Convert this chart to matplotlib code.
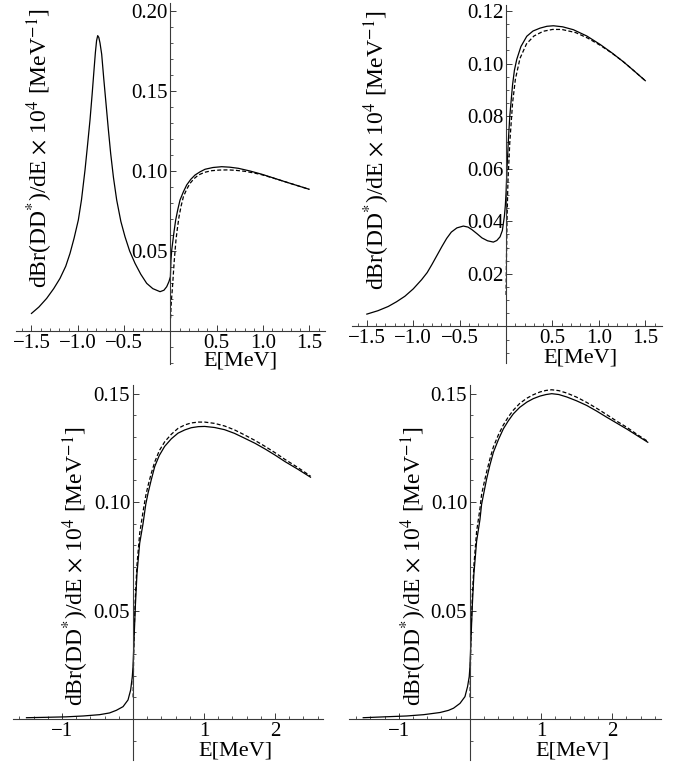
import matplotlib.pyplot as plt
from matplotlib.ticker import FixedLocator, FixedFormatter, MultipleLocator

plt.rcParams['font.family'] = ['Liberation Serif', 'DejaVu Serif']
plt.rcParams['mathtext.fontset'] = 'stix'

# ---- data ----
# top left panel
tl_solid_e = [-1.50, -1.42, -1.336, -1.26, -1.192, -1.13, -1.084, -1.04, -0.994, -0.96,
              -0.922, -0.895, -0.868, -0.845, -0.825, -0.81, -0.797, -0.785, -0.773, -0.76,
              -0.742, -0.72, -0.695, -0.670, -0.645, -0.615, -0.58, -0.535, -0.49, -0.44,
              -0.382, -0.32, -0.256, -0.19, -0.112, -0.07, -0.04, -0.015, 0.0, 0.006,
              0.015, 0.028, 0.04, 0.057, 0.08, 0.104, 0.14, 0.176, 0.22, 0.266,
              0.32, 0.374, 0.46, 0.554, 0.64, 0.733, 0.86, 0.986, 1.11, 1.238, 1.37, 1.497]
tl_solid_v = [0.0110, 0.0150, 0.0204, 0.0265, 0.0329, 0.0405, 0.0485, 0.0580, 0.0694, 0.0820,
              0.1006, 0.1160, 0.1319, 0.1480, 0.1630, 0.1740, 0.1815, 0.1846, 0.1835, 0.1800,
              0.1730, 0.1580, 0.1420, 0.1260, 0.1110, 0.0960, 0.0819, 0.0685, 0.0589, 0.0500,
              0.0423, 0.0355, 0.0298, 0.0265, 0.0246, 0.0255, 0.0277, 0.0310, 0.0340, 0.0444,
              0.0510, 0.0569, 0.0625, 0.0694, 0.0760, 0.0819, 0.0870, 0.0913, 0.0948, 0.0975,
              0.0995, 0.1011, 0.1022, 0.1027, 0.1024, 0.1017, 0.1000, 0.0980, 0.0957, 0.0933, 0.0909, 0.0886]
tl_dash_e = [0.002, 0.006, 0.012, 0.020, 0.030, 0.039, 0.050, 0.060, 0.075, 0.093,
             0.115, 0.14, 0.175, 0.212, 0.255, 0.302, 0.37, 0.446, 0.53, 0.626,
             0.71, 0.806, 0.90, 0.986, 1.11, 1.238, 1.37, 1.497]
tl_dash_v = [0.008, 0.014, 0.020, 0.0256, 0.034, 0.042, 0.050, 0.0569, 0.064, 0.0714,
             0.0780, 0.0839, 0.0885, 0.0923, 0.0952, 0.0975, 0.0992, 0.1002, 0.1006, 0.1007,
             0.1004, 0.0998, 0.0988, 0.0977, 0.0956, 0.0933, 0.0909, 0.0886]

# top right panel
tr_solid_e = [-1.50, -1.38, -1.27, -1.18, -1.09, -1.00, -0.91, -0.85, -0.80, -0.745,
              -0.69, -0.64, -0.59, -0.53, -0.46, -0.41, -0.37, -0.31, -0.26, -0.20,
              -0.137, -0.10, -0.065, -0.04, -0.018, -0.008, 0.0, 0.01, 0.025, 0.04,
              0.07, 0.09, 0.115, 0.16, 0.223, 0.29, 0.366, 0.44, 0.51, 0.61,
              0.725, 0.87, 1.013, 1.14, 1.264, 1.38, 1.50]
tr_solid_v = [0.0047, 0.0060, 0.0076, 0.0094, 0.0115, 0.0143, 0.0178, 0.0205, 0.0235, 0.0270,
              0.0305, 0.0335, 0.0359, 0.0375, 0.0382, 0.0378, 0.0369, 0.0352, 0.0337, 0.0326,
              0.0321, 0.0327, 0.0341, 0.0365, 0.0420, 0.0460, 0.0510, 0.0600, 0.0710, 0.0800,
              0.0920, 0.0975, 0.1016, 0.1065, 0.1104, 0.1124, 0.1135, 0.1142, 0.1144, 0.1140,
              0.1129, 0.1105, 0.1073, 0.1041, 0.1007, 0.0972, 0.0935]
tr_dash_e = [0.0, 0.004, 0.010, 0.020, 0.040, 0.070, 0.10, 0.15, 0.22, 0.30,
             0.40, 0.50, 0.60, 0.75, 0.88, 1.013, 1.14, 1.264, 1.38, 1.50]
tr_dash_v = [0.012, 0.025, 0.040, 0.055, 0.070, 0.085, 0.094, 0.102, 0.1075, 0.1105,
             0.1123, 0.1130, 0.1130, 0.1118, 0.1097, 0.1070, 0.1040, 0.1007, 0.0972, 0.0935]

# bottom left panel
bl_solid_e = [-1.50, -1.20, -0.94, -0.70, -0.47, -0.33, -0.235, -0.14, -0.07, -0.033,
              -0.01, 0.0, 0.014, 0.033, 0.056, 0.094, 0.141, 0.18, 0.211, 0.255,
              0.306, 0.37, 0.446, 0.54, 0.634, 0.73, 0.82, 0.92, 1.01, 1.15,
              1.29, 1.43, 1.57, 1.72, 1.86, 2.00, 2.14, 2.32, 2.50]
bl_solid_v = [0.0006, 0.0008, 0.0010, 0.0014, 0.0020, 0.0028, 0.0040, 0.0057, 0.0088, 0.0134,
              0.0195, 0.0240, 0.0360, 0.0520, 0.0670, 0.0810, 0.0900, 0.0990, 0.1040, 0.1100,
              0.1164, 0.1215, 0.1257, 0.1292, 0.1318, 0.1333, 0.1343, 0.1348, 0.1349, 0.1344,
              0.1334, 0.1317, 0.1295, 0.1271, 0.1245, 0.1217, 0.1187, 0.1152, 0.1115]
bl_dash_e = [0.002, 0.006, 0.014, 0.033, 0.056, 0.094, 0.141, 0.18, 0.211, 0.255,
             0.306, 0.37, 0.446, 0.54, 0.634, 0.73, 0.82, 0.92, 1.01, 1.15,
             1.29, 1.43, 1.57, 1.72, 1.86, 2.00, 2.14, 2.32, 2.50]
bl_dash_v = [0.010, 0.022, 0.038, 0.056, 0.071, 0.0855, 0.0955, 0.1030, 0.1075, 0.1130,
             0.1185, 0.1237, 0.1278, 0.1313, 0.1340, 0.1356, 0.1365, 0.1369, 0.1369, 0.1363,
             0.1351, 0.1333, 0.1310, 0.1284, 0.1257, 0.1228, 0.1197, 0.1160, 0.1120]

# bottom right panel
br_solid_e = [-1.50, -1.20, -0.89, -0.65, -0.42, -0.30, -0.23, -0.14, -0.07, -0.033,
              -0.01, 0.0, 0.014, 0.033, 0.056, 0.094, 0.141, 0.164, 0.20, 0.235,
              0.28, 0.33, 0.40, 0.47, 0.54, 0.61, 0.70, 0.80, 0.89, 0.986,
              1.07, 1.15, 1.25, 1.36, 1.50, 1.64, 1.78, 1.92, 2.06, 2.21, 2.35, 2.50]
br_solid_v = [0.0006, 0.0010, 0.0014, 0.0020, 0.0030, 0.0040, 0.0050, 0.0072, 0.0103, 0.0150,
              0.0195, 0.0240, 0.0360, 0.0520, 0.0670, 0.0820, 0.0920, 0.0990, 0.1050, 0.1107,
              0.1170, 0.1230, 0.1288, 0.1338, 0.1375, 0.1407, 0.1437, 0.1461, 0.1477, 0.1489,
              0.1496, 0.1500, 0.1496, 0.1485, 0.1467, 0.1446, 0.1420, 0.1392, 0.1365, 0.1336, 0.1307, 0.1276]
br_dash_e = [0.002, 0.006, 0.014, 0.033, 0.056, 0.094, 0.141, 0.164, 0.20, 0.235,
             0.28, 0.33, 0.40, 0.47, 0.54, 0.61, 0.70, 0.80, 0.89, 0.986,
             1.07, 1.15, 1.25, 1.36, 1.50, 1.64, 1.78, 1.92, 2.06, 2.21, 2.35, 2.50]
br_dash_v = [0.010, 0.022, 0.038, 0.056, 0.071, 0.0865, 0.0970, 0.1035, 0.1090, 0.1140,
             0.1198, 0.1255, 0.1310, 0.1356, 0.1393, 0.1424, 0.1455, 0.1479, 0.1495, 0.1508,
             0.1515, 0.1518, 0.1514, 0.1503, 0.1484, 0.1460, 0.1433, 0.1404, 0.1374, 0.1344, 0.1312, 0.1280]

# tick labels
top_xticks = [-1.5, -1.0, -0.5, 0.5, 1.0, 1.5]
top_xlabels = ['\u22121.5', '\u22121.0', '\u22120.5', '0.5', '1.0', '1.5']
bot_xticks = [-1, 1, 2]
bot_xlabels = ['\u22121', '1', '2']
tl_yticks = [0.05, 0.10, 0.15, 0.20]
tl_ylabels = ['0.05', '0.10', '0.15', '0.20']
tr_yticks = [0.02, 0.04, 0.06, 0.08, 0.10, 0.12]
tr_ylabels = ['0.02', '0.04', '0.06', '0.08', '0.10', '0.12']
bot_yticks = [0.05, 0.10, 0.15]
bot_ylabels = ['0.05', '0.10', '0.15']

ylab = r'dBr(DD$^{*}$)/dE $\times$ 10$^{4}$ [MeV$^{-1}$]'

W, H = 681, 774
fig = plt.figure(figsize=(W / 100, H / 100), dpi=100)


def box(x0, y0, x1, y1):
    # pixel box (top-left origin) -> figure fraction rect
    return [x0 / W, 1 - y1 / H, (x1 - x0) / W, (y1 - y0) / H]


panels = [
    (box(16, 3, 325, 364), (-1.667, 1.669), (-0.0206, 0.205),
     tl_solid_e, tl_solid_v, tl_dash_e, tl_dash_v,
     top_xticks, top_xlabels, 0.1, tl_yticks, tl_ylabels, 0.01,
     (40, 148), (240, 361)),
    (box(352, 5, 662, 363), (-1.66, 1.68), (-0.0139, 0.1223),
     tr_solid_e, tr_solid_v, tr_dash_e, tr_dash_v,
     top_xticks, top_xlabels, 0.1, tr_yticks, tr_ylabels, 0.005,
     (377, 150), (580, 358)),
    (box(13, 385, 323, 760), (-1.69, 2.676), (-0.0189, 0.154),
     bl_solid_e, bl_solid_v, bl_dash_e, bl_dash_v,
     bot_xticks, bot_xlabels, 0.2, bot_yticks, bot_ylabels, 0.01,
     (76, 566), (235, 751)),
    (box(349, 385, 661, 760), (-1.70, 2.686), (-0.0189, 0.154),
     br_solid_e, br_solid_v, br_dash_e, br_dash_v,
     bot_xticks, bot_xlabels, 0.2, bot_yticks, bot_ylabels, 0.01,
     (414, 566), (572, 751)),
]

for (rect, xlim, ylim, se, sv, de, dv, xt, xl, xminor, yt, yl, yminor, ylpos, xlpos) in panels:
    ax = fig.add_axes(rect)
    ax.patch.set_alpha(0)
    ax.plot(se, sv, color='black', lw=0.9, solid_joinstyle='round')
    ax.plot(de, dv, color='black', lw=0.9, linestyle=(0, (3.2, 1.8)))
    ax.set_xlim(*xlim)
    ax.set_ylim(*ylim)

    for side in ['top', 'right']:
        ax.spines[side].set_visible(False)
    for side in ['left', 'bottom']:
        ax.spines[side].set_position(('data', 0))
        ax.spines[side].set_color('#3a3a3a')
        ax.spines[side].set_linewidth(0.8)

    ax.xaxis.set_major_locator(FixedLocator(xt))
    ax.xaxis.set_major_formatter(FixedFormatter(xl))
    ax.xaxis.set_minor_locator(MultipleLocator(xminor))
    ax.yaxis.set_major_locator(FixedLocator(yt))
    ax.yaxis.set_major_formatter(FixedFormatter(yl))
    ax.yaxis.set_minor_locator(MultipleLocator(yminor))
    ax.tick_params(which='major', direction='in', length=4.5, width=0.7,
                   color='#3a3a3a', labelsize=15, pad=2)
    ax.tick_params(which='minor', direction='in', length=2.2, width=0.6, color='#3a3a3a')

    fig.text(ylpos[0] / W, 1 - ylpos[1] / H, ylab, rotation=90,
             ha='center', va='center', fontsize=17)
    fig.text(xlpos[0] / W, 1 - xlpos[1] / H, 'E[MeV]', ha='center', va='center', fontsize=16)

fig.savefig('out.png', dpi=100)
